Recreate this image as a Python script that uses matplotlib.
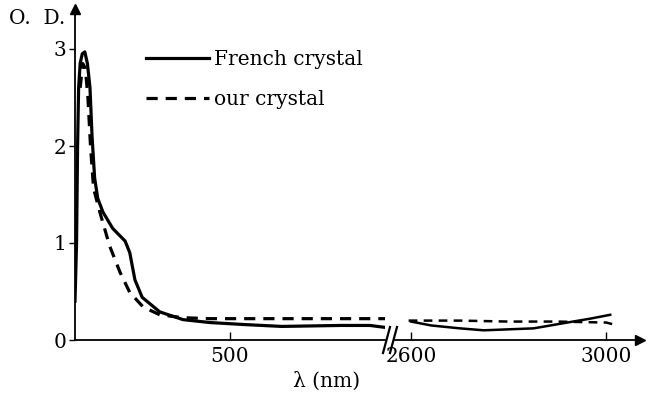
import matplotlib
matplotlib.use("Agg")
import matplotlib.pyplot as plt

# ---- data ----
french_x_vis = [200, 203, 205, 207, 210, 214, 219, 224, 229, 233, 238, 244, 254, 273, 297, 306, 316, 330, 364, 409, 461, 525, 600, 713, 771, 800]
french_y_vis = [0.40, 1.00, 2.00, 2.60, 2.85, 2.95, 2.97, 2.85, 2.60, 2.10, 1.67, 1.46, 1.32, 1.15, 1.02, 0.90, 0.62, 0.44, 0.29, 0.21, 0.18, 0.16, 0.14, 0.15, 0.15, 0.13]
our_x_vis = [210, 215, 220, 225, 230, 236, 248, 267, 287, 306, 332, 364, 409, 461, 800]
our_y_vis = [2.60, 2.85, 2.80, 2.50, 2.00, 1.56, 1.32, 0.97, 0.70, 0.49, 0.34, 0.26, 0.23, 0.22, 0.22]

french_x_ir = [2600, 2641, 2700, 2749, 2800, 2851, 2920, 2967, 3008]
french_y_ir = [0.19, 0.15, 0.12, 0.10, 0.11, 0.12, 0.18, 0.22, 0.26]
our_x_ir = [2595, 2700, 2800, 2900, 3000, 3015]
our_y_ir = [0.20, 0.20, 0.19, 0.19, 0.18, 0.16]

yticks = [0, 1, 2, 3]
xticks_vis = [500]
xticks_ir = [2600, 3000]

plt.rcParams['font.family'] = ['DejaVu Serif']
FS = 14.5

W, H = 653, 394
fig = plt.figure(figsize=(W / 100, H / 100), dpi=100)

bottom = (H - 340) / H
height = (340 - 15) / H
ax1 = fig.add_axes([75 / W, bottom, 310 / W, height])
ax2 = fig.add_axes([394 / W, bottom, (640 - 394) / W, height])

ymax = (340 - 15) / 97.0
lw = 2.3
for ax in (ax1, ax2):
    ax.set_ylim(0, ymax)
    ax.spines['top'].set_visible(False)
    ax.spines['right'].set_visible(False)
    ax.patch.set_alpha(0)
    for s in ax.spines.values():
        s.set_linewidth(1.3)

ax1.set_xlim(200, 800)
ax2.set_xlim(2565, 3069)
ax2.spines['left'].set_visible(False)

ax1.plot(french_x_vis, french_y_vis, color='black', lw=lw, solid_joinstyle='round', label='French crystal')
ax1.plot(our_x_vis, our_y_vis, color='black', lw=lw, ls=(0, (3.5, 2.5)), label='our crystal')
ax2.plot(french_x_ir, french_y_ir, color='black', lw=1.8)
ax2.plot(our_x_ir, our_y_ir, color='black', lw=1.8, ls=(0, (3.5, 2.5)))

ax1.set_yticks(yticks)
ax1.set_yticklabels([str(v) for v in yticks], fontsize=FS)
ax1.tick_params(axis='y', direction='out', length=4, width=1, pad=2)
ax1.set_xticks(xticks_vis)
ax1.set_xticklabels([str(v) for v in xticks_vis], fontsize=FS)
ax1.tick_params(axis='x', direction='in', length=6, width=1, pad=5)
ax2.set_yticks([])
ax2.set_xticks(xticks_ir)
ax2.set_xticklabels([str(v) for v in xticks_ir], fontsize=FS)
ax2.tick_params(axis='x', direction='in', length=6, width=1, pad=5)

# arrows
ax1.plot([0, 0], [1.0, 1.02], transform=ax1.transAxes, color='black', lw=1.3, clip_on=False)
ax1.plot(0, 1.02, marker='^', markersize=7, color='black', transform=ax1.transAxes, clip_on=False)
ax2.plot(1.0, 0, marker='>', markersize=7, color='black', transform=ax2.transAxes, clip_on=False)

# break marks
for dx in (0, 7):
    x0 = (383 + dx) / W
    fig.lines.append(plt.Line2D([x0, x0 + 7 / W], [(H - 353) / H, (H - 327) / H],
                                color='black', lw=1.6, transform=fig.transFigure))

fig.text(9 / W, 1 - 19 / H, 'O.  D.', fontsize=FS, va='center', ha='left')
fig.text(327 / W, 1 - 381 / H, 'λ (nm)', fontsize=FS, va='center', ha='center')

fig.legend(loc='upper left', bbox_to_anchor=(128 / W, 1 - 32 / H), frameon=False,
           fontsize=FS, handlelength=3.1, handletextpad=0.25, labelspacing=1.05)

fig.savefig('out.png', dpi=100)
